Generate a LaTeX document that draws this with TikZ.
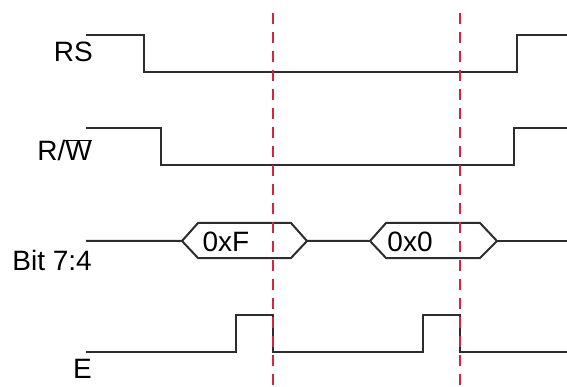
\documentclass[tikz,border=0pt]{standalone}
\usepackage{fontspec}
\setmainfont{Liberation Sans}
\usetikzlibrary{positioning}
\definecolor{wavegray}{RGB}{45, 45, 45}
\definecolor{strobered}{RGB}{215, 35, 60}
\newcommand{\sigfont}{\fontsize{28}{32}\selectfont}

\begin{document}
\begin{tikzpicture}[
    x=1pt, y=-1pt,
    % signal name style
    signame/.style={anchor=east, inner sep=0pt, font=\sigfont},
    % value in the bus
    busval/.style={inner sep=0pt, font=\sigfont},
    % waveform style
    wave/.style={line width=2pt, wavegray, line join=miter},
    % strobe marker style
    strobe/.style={line width=1.8pt, strobered, dash pattern=on 11pt off 8pt},
]
\useasboundingbox (0,0) rectangle (567,387);

% ==================== signal names ====================
\node[signame] (rs) at (93,52) {RS};
\node[signame] (rw) at (92,150) {R/$\overline{\hbox{W}}$};
\node[signame] (bit) at (92,260) {Bit 7:4};
\node[signame] (en) at (92,369) {E};

% ==================== waveforms ====================
% RS
\draw[wave] (86,35) -| (144,72) -| (517,35) -- (567,35);
% R/W
\draw[wave] (86,128) -| (161,165) -| (514,128) -- (567,128);
% Bit 7:4
\draw[wave] (86,241) -- (182,241) -- (198,223) -- (291,223) -- (307,241)
    -- (291,258) -- (198,258) -- (182,241);
\draw[wave] (307,241) -- (370,241) -- (386,223) -- (480,223) -- (497,241)
    -- (480,258) -- (386,258) -- (370,241);
\draw[wave] (497,241) -- (567,241);
\node[busval] (valF) at (226,242) {0xF};
\node[busval] (val0) at (410,242) {0x0};
% E
\draw[wave] (86,352) -| (236,315) -| (273,352) -| (423,315) -| (460,352) -- (567,352);

% ==================== strobe markers ====================
\foreach \x in {273,460}
    \draw[strobe] (\x,13) -- (\x,387);

\end{tikzpicture}
\end{document}
